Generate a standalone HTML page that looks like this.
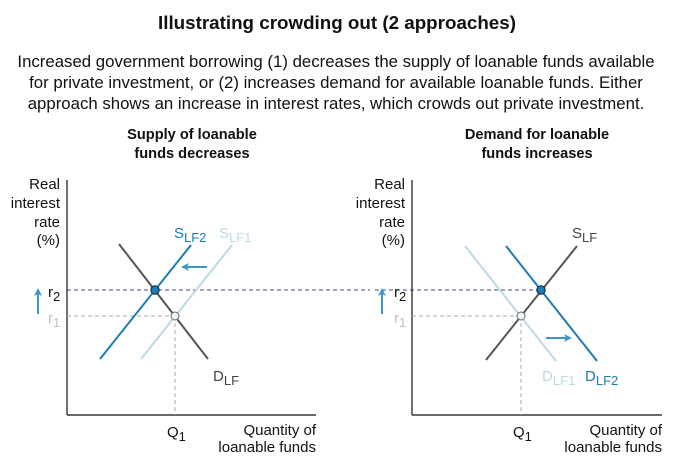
<!DOCTYPE html>
<html><head><meta charset="utf-8"><style>
body{margin:0;background:#fff;}
svg{display:block;font-family:"Liberation Sans",Arial,sans-serif;}
</style></head><body>
<svg width="673" height="463" viewBox="0 0 673 463">
<defs>
<marker id="ah" markerWidth="8" markerHeight="8" refX="4" refY="4" orient="auto" markerUnits="userSpaceOnUse">
<path d="M0,0 L8,4 L0,8 L2,4 Z" fill="#3a98c8"/></marker>
</defs>
<text x="337" y="29" text-anchor="middle" font-size="18.8" font-weight="bold" fill="#111">Illustrating crowding out (2 approaches)</text>
<g font-size="16.8" fill="#111" text-anchor="middle">
<text x="336" y="67">Increased government borrowing (1) decreases the supply of loanable funds available</text>
<text x="336" y="88">for private investment, or (2) increases demand for available loanable funds. Either</text>
<text x="336" y="109">approach shows an increase in interest rates, which crowds out private investment.</text>
</g>
<g font-size="14.6" font-weight="bold" fill="#111" text-anchor="middle">
<text x="192" y="139">Supply of loanable</text><text x="192" y="158">funds decreases</text>
<text x="537" y="139">Demand for loanable</text><text x="537" y="158">funds increases</text>
</g>
<line x1="67" y1="290" x2="541" y2="290" stroke="#4a4a7a" stroke-width="1" stroke-dasharray="4,3"/>
<line x1="340" y1="290" x2="372" y2="290" stroke="#fff" stroke-width="3"/>
<line x1="340" y1="290" x2="370" y2="290" stroke="#4a4a7a" stroke-width="1" stroke-dasharray="4,3"/>
<g font-size="15" fill="#111">
<text x="60" y="189" text-anchor="end">Real</text><text x="60" y="208" text-anchor="end">interest</text>
<text x="60" y="227" text-anchor="end">rate</text><text x="60" y="245" text-anchor="end">(%)</text>
<text x="405" y="189" text-anchor="end">Real</text><text x="405" y="208" text-anchor="end">interest</text>
<text x="405" y="227" text-anchor="end">rate</text><text x="405" y="245" text-anchor="end">(%)</text>
<text x="316" y="435" text-anchor="end">Quantity of</text><text x="316" y="452" text-anchor="end">loanable funds</text>
<text x="662" y="435" text-anchor="end">Quantity of</text><text x="662" y="452" text-anchor="end">loanable funds</text>
</g>
<line x1="67" y1="180" x2="67" y2="415" stroke="#111" stroke-width="1.2"/>
<line x1="67" y1="415" x2="316" y2="415" stroke="#111" stroke-width="1.2"/>
<line x1="67" y1="316" x2="175" y2="316" stroke="#aaa" stroke-dasharray="4,3"/>
<line x1="175" y1="316" x2="175" y2="415" stroke="#aaa" stroke-dasharray="4,3"/>
<line x1="141" y1="359" x2="232" y2="245" stroke="#b9dbe9" stroke-width="2"/>
<line x1="119" y1="244" x2="208" y2="359" stroke="#555" stroke-width="2"/>
<line x1="100" y1="359" x2="191" y2="245" stroke="#1a7db5" stroke-width="2"/>
<circle cx="175" cy="316" r="4" fill="#eef6fa" stroke="#666"/>
<circle cx="155" cy="290" r="4.2" fill="#1a7db5" stroke="#123"/>
<line x1="207" y1="267" x2="185" y2="267" stroke="#3a98c8" stroke-width="2" marker-end="url(#ah)"/>
<line x1="38" y1="314" x2="38" y2="292" stroke="#3a98c8" stroke-width="2" marker-end="url(#ah)"/>
<text x="48" y="297" font-size="15" fill="#111">r<tspan dy="4" font-size="13">2</tspan></text>
<text x="48" y="323" font-size="15" fill="#c0c0c0">r<tspan dy="4" font-size="13">1</tspan></text>
<text x="167" y="437" font-size="15" fill="#111">Q<tspan dy="4" font-size="13">1</tspan></text>
<text x="174" y="238" font-size="15" fill="#1a7db5">S<tspan dy="4" font-size="13">LF2</tspan></text>
<text x="219" y="238" font-size="15" fill="#b9dbe9">S<tspan dy="4" font-size="13">LF1</tspan></text>
<text x="213" y="381" font-size="15" fill="#444">D<tspan dy="4" font-size="13">LF</tspan></text>
<line x1="412" y1="180" x2="412" y2="415" stroke="#111" stroke-width="1.2"/>
<line x1="412" y1="415" x2="662" y2="415" stroke="#111" stroke-width="1.2"/>
<line x1="412" y1="316" x2="521" y2="316" stroke="#aaa" stroke-dasharray="4,3"/>
<line x1="521" y1="316" x2="521" y2="415" stroke="#aaa" stroke-dasharray="4,3"/>
<line x1="465" y1="246" x2="556" y2="361" stroke="#b9dbe9" stroke-width="2"/>
<line x1="486" y1="360" x2="577" y2="246" stroke="#555" stroke-width="2"/>
<line x1="506" y1="246" x2="597" y2="361" stroke="#1a7db5" stroke-width="2"/>
<circle cx="521" cy="316" r="4" fill="#eef6fa" stroke="#666"/>
<circle cx="541" cy="290" r="4.2" fill="#1a7db5" stroke="#123"/>
<line x1="546" y1="338" x2="568" y2="338" stroke="#3a98c8" stroke-width="2" marker-end="url(#ah)"/>
<line x1="382" y1="314" x2="382" y2="292" stroke="#3a98c8" stroke-width="2" marker-end="url(#ah)"/>
<text x="394" y="297" font-size="15" fill="#111">r<tspan dy="4" font-size="13">2</tspan></text>
<text x="394" y="323" font-size="15" fill="#c0c0c0">r<tspan dy="4" font-size="13">1</tspan></text>
<text x="513" y="437" font-size="15" fill="#111">Q<tspan dy="4" font-size="13">1</tspan></text>
<text x="572" y="238" font-size="15" fill="#444">S<tspan dy="4" font-size="13">LF</tspan></text>
<text x="542" y="381" font-size="15" fill="#b9dbe9">D<tspan dy="4" font-size="13">LF1</tspan></text>
<text x="585" y="381" font-size="15" fill="#1a7db5">D<tspan dy="4" font-size="13">LF2</tspan></text>
</svg>
</body></html>
